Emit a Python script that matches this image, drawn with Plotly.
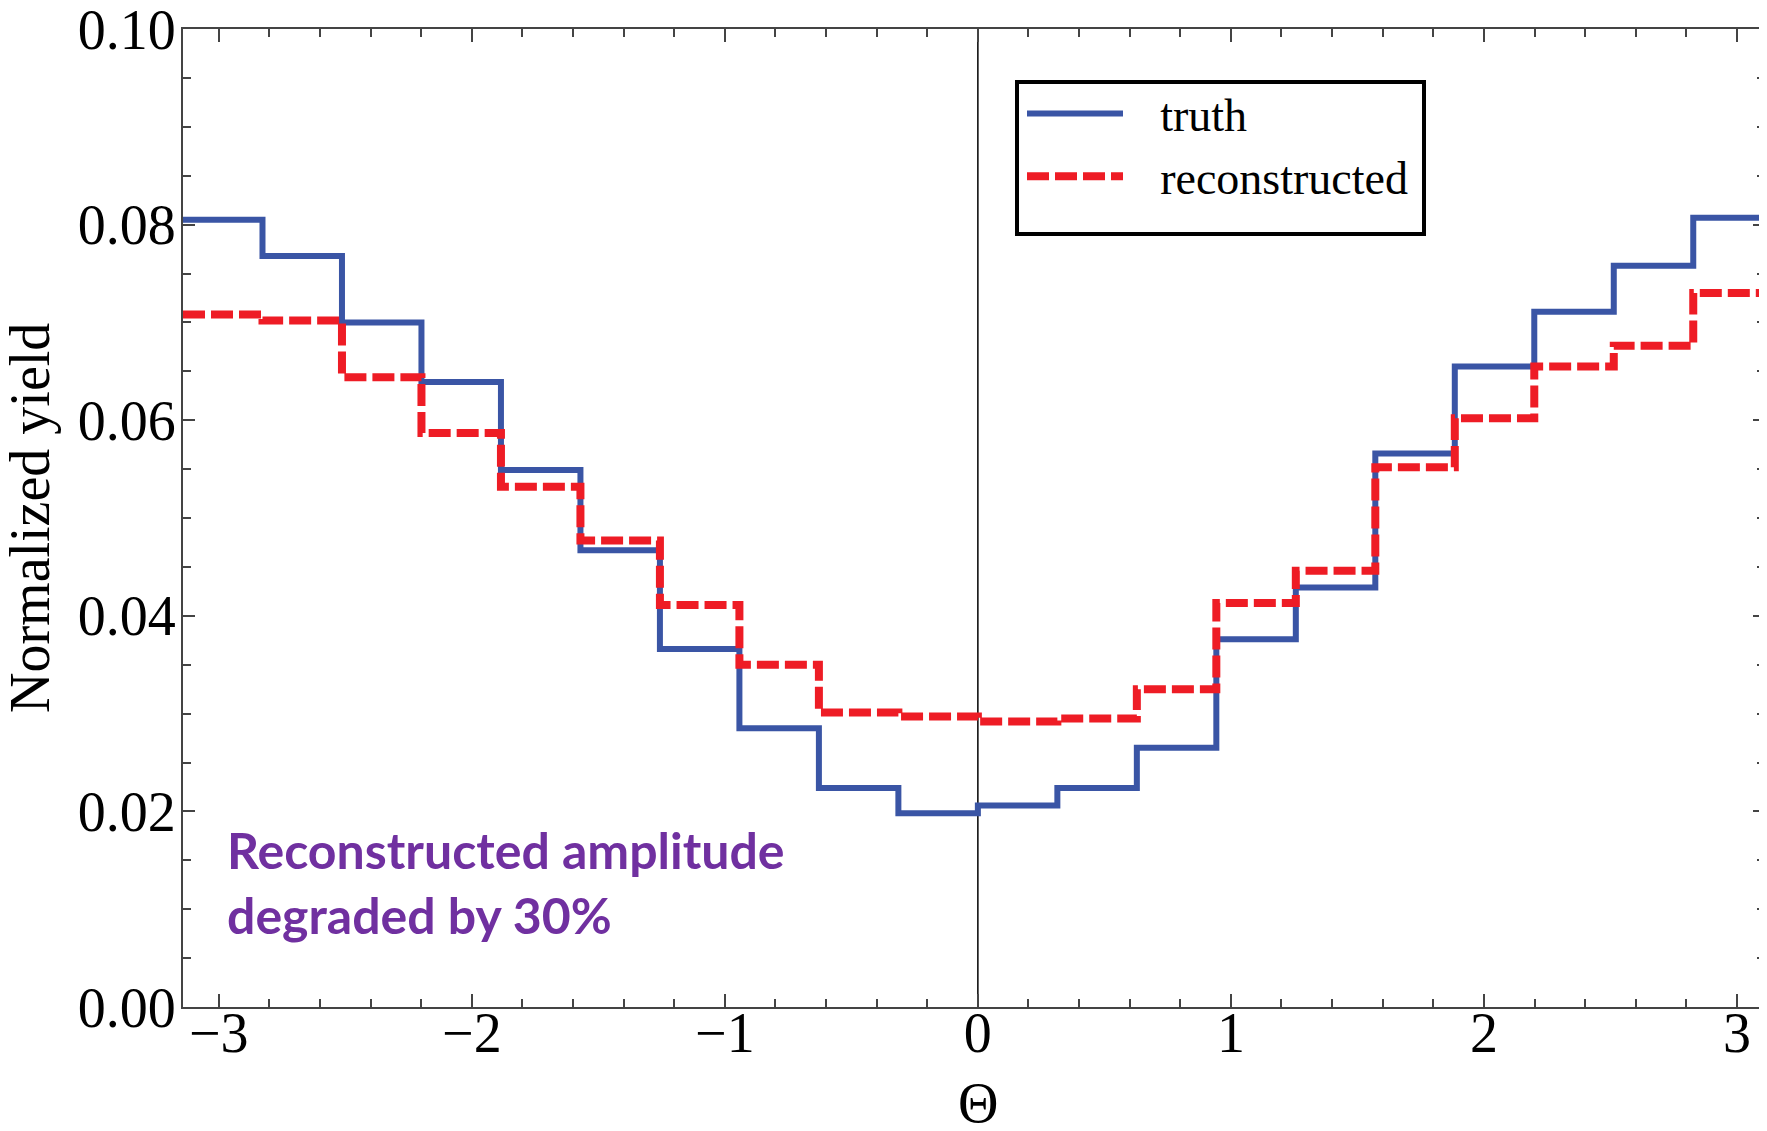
import numpy as np
import plotly.graph_objects as go

# Bin edges in Theta (20 bins from -pi to pi)
bin_edges = list(np.linspace(-np.pi, np.pi, 21))

truth = [0.0805, 0.0768, 0.0700, 0.0639, 0.0549, 0.0467, 0.0366, 0.0285, 0.0224, 0.0198,
         0.0206, 0.0224, 0.0265, 0.0376, 0.0429, 0.0566, 0.0655, 0.0711, 0.0758, 0.0807]
reconstructed = [0.0708, 0.0702, 0.0644, 0.0587, 0.0532, 0.0477, 0.0411, 0.0350, 0.0301, 0.0297,
                 0.0292, 0.0295, 0.0325, 0.0413, 0.0446, 0.0552, 0.0602, 0.0655, 0.0676, 0.0730]

x_ticks = [-3, -2, -1, 0, 1, 2, 3]
y_ticks = [0.00, 0.02, 0.04, 0.06, 0.08, 0.10]

x_title = "Θ"
y_title = "Normalized yield"

SERIF = "Liberation Serif"
BLUE = "#3A55A5"
RED = "#EE1C25"
AX = "#444444"
NB = "\u00a0"

# page body has an 8px margin; figure placed accordingly
OFF = 8
W, H = 1759, 1123
L, R, T, B = 175, 2, 21, 124
PW, PH = W - L - R, H - T - B


def px(xp):  # page pixel x -> paper
    return (xp - OFF - L) / PW


def py(yp):  # page pixel y -> paper
    return (OFF + H - B - yp) / PH


fig = go.Figure()
fig.add_trace(go.Scatter(
    x=bin_edges, y=truth + [truth[-1]], mode="lines", line_shape="hv",
    name=NB * 2 + "\u2009" + "truth", line=dict(color=BLUE, width=6)))
fig.add_trace(go.Scatter(
    x=bin_edges, y=reconstructed + [reconstructed[-1]], mode="lines", line_shape="hv",
    name=NB * 2 + "\u2009" + "reconstructed", line=dict(color=RED, width=8, dash="22px,6px")))

fig.add_vline(x=0, line=dict(color="black", width=1.5), layer="below")

axis_common = dict(
    showline=True, linecolor=AX, linewidth=2, mirror="ticks",
    ticks="inside", tickcolor=AX, tickwidth=2,
    showgrid=False, zeroline=False, automargin=False,
    ticklabeloverflow="allow",
    tickfont=dict(family=SERIF, size=56, color="black"),
)

fig.update_xaxes(
    range=[-np.pi, 3.111], tickvals=x_ticks, ticklen=13, ticklabelstandoff=-24,
    minor=dict(dtick=0.2, tick0=0, ticks="inside", ticklen=8, tickcolor=AX, tickwidth=1.5),
    **axis_common)
fig.update_yaxes(
    range=[0, 0.1], tickvals=y_ticks, tickformat=".2f", ticklen=12, ticklabelstandoff=-6,
    minor=dict(dtick=0.005, tick0=0, ticks="inside", ticklen=8, tickcolor=AX, tickwidth=1.5),
    **axis_common)

# axis titles
fig.add_annotation(
    xref="paper", yref="paper", x=px(978), y=py(1103), xanchor="center", yanchor="middle",
    showarrow=False, text=x_title, font=dict(family=SERIF, size=56, color="black"))
fig.add_annotation(
    xref="paper", yref="paper", x=px(30), y=py(518), xanchor="center", yanchor="middle",
    textangle=-90, showarrow=False, text=y_title,
    font=dict(family=SERIF, size=56, color="black"))

# legend frame
fig.add_shape(type="rect", xref="paper", yref="paper",
              x0=px(1017), x1=px(1424), y0=py(234), y1=py(82),
              line=dict(color="black", width=4), fillcolor="white", layer="above")

fig.add_annotation(
    xref="paper", yref="paper", x=px(225), y=py(882),
    xanchor="left", yanchor="middle", align="left", showarrow=False,
    text="<b>Reconstructed amplitude<br>degraded by 30%</b>",
    font=dict(family="Lato", size=50, color="#7030A0"))

fig.update_layout(
    width=W, height=H,
    margin=dict(l=L, r=R, t=T, b=B),
    paper_bgcolor="white", plot_bgcolor="white",
    showlegend=True,
    legend=dict(
        x=px(1022), y=py(77), xanchor="left", yanchor="top",
        bgcolor="rgba(0,0,0,0)", borderwidth=0,
        font=dict(family=SERIF, size=46, color="black"),
        itemwidth=96, tracegroupgap=0),
)

fig.write_html("out.html")
